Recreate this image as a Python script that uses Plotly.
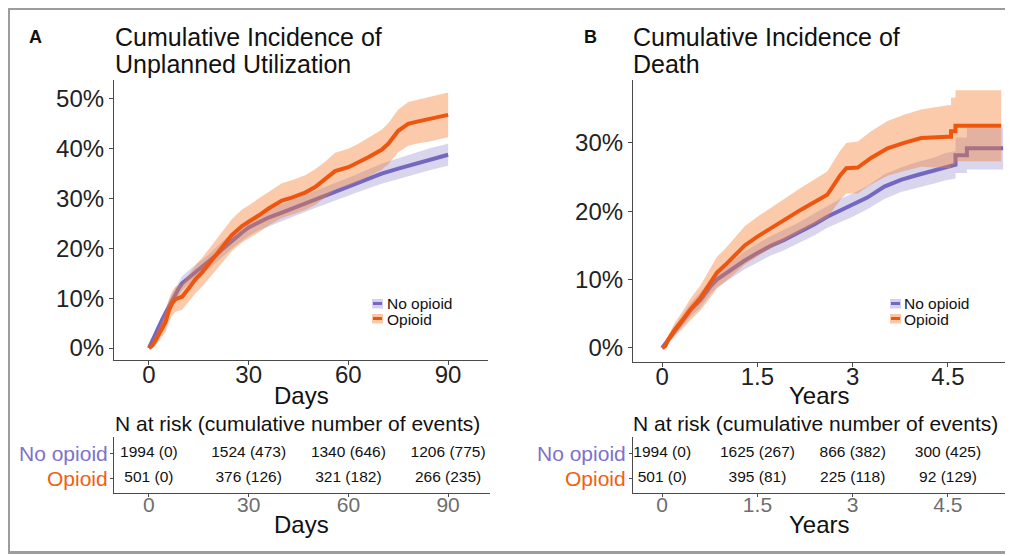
import plotly.graph_objects as go

# ---------------- data ----------------
# Panel A: cumulative incidence of unplanned utilization (%), by days
a_no_days = [0, 1, 2, 3, 4, 5, 6, 7, 8, 9, 10, 12, 14, 16, 18, 20, 22, 25, 28, 30, 33, 36, 40, 45, 50, 55, 60, 65, 70, 75, 80, 85, 90]
a_no_est = [0, 1.5, 3.0, 4.3, 5.7, 7.0, 8.3, 9.6, 10.8, 12.0, 13.0, 14.2, 15.2, 16.3, 17.3, 18.5, 19.8, 21.6, 23.2, 24.2, 25.3, 26.2, 27.2, 28.5, 29.8, 31.1, 32.4, 33.7, 35.0, 36.0, 37.0, 38.0, 38.8]
a_no_lo = [0, 0.9, 2.2, 3.4, 4.7, 5.9, 7.1, 8.3, 9.5, 10.6, 11.6, 12.8, 13.7, 14.8, 15.8, 16.9, 18.2, 20.0, 21.5, 22.5, 23.6, 24.5, 25.5, 26.8, 28.1, 29.3, 30.6, 31.8, 33.0, 33.9, 34.9, 35.8, 36.6]
a_no_hi = [0, 2.1, 3.8, 5.2, 6.7, 8.1, 9.5, 10.9, 12.1, 13.4, 14.4, 15.6, 16.7, 17.8, 18.8, 20.1, 21.4, 23.2, 24.9, 25.9, 27.0, 27.9, 28.9, 30.2, 31.5, 32.9, 34.2, 35.6, 37.0, 38.1, 39.1, 40.2, 41.0]

a_op_days = [0, 1, 2, 3, 4, 5, 6, 7, 8, 10, 12, 14, 16, 18, 20, 22, 25, 28, 30, 33, 36, 40, 43, 47, 50, 53, 56, 60, 63, 66, 70, 72, 75, 78, 81, 84, 87, 90]
a_op_est = [0, 0.5, 1.5, 2.8, 4.0, 5.2, 7.5, 9.0, 9.8, 10.3, 12.0, 13.8, 15.2, 16.8, 18.5, 20.2, 22.7, 24.5, 25.3, 26.6, 28.0, 29.6, 30.2, 31.2, 32.3, 33.8, 35.5, 36.3, 37.2, 38.3, 39.8, 41.0, 43.6, 45.0, 45.5, 45.9, 46.3, 46.8]
a_op_lo = [0, 0, 0.5, 1.4, 2.3, 3.2, 5.2, 6.6, 7.3, 7.7, 9.3, 11.0, 12.3, 13.8, 15.4, 17.1, 19.5, 21.2, 22.0, 23.2, 24.6, 26.1, 26.7, 27.7, 28.7, 30.2, 31.8, 32.6, 33.4, 34.4, 35.8, 36.9, 39.3, 40.6, 41.1, 41.4, 41.8, 42.3]
a_op_hi = [0, 1.1, 2.5, 4.2, 5.7, 7.2, 9.8, 11.4, 12.3, 12.9, 14.7, 16.6, 18.1, 19.8, 21.6, 23.3, 25.9, 27.8, 28.6, 30.0, 31.4, 33.1, 33.7, 34.7, 35.9, 37.4, 39.2, 40.0, 41.0, 42.2, 43.8, 45.1, 47.9, 49.4, 49.9, 50.4, 50.8, 51.3]

# Panel B: cumulative incidence of death (%), by years
b_no_yrs = [0, 0.1, 0.2, 0.33, 0.45, 0.6, 0.76, 0.86, 1.0, 1.13, 1.3, 1.5, 1.7, 1.92, 2.18, 2.4, 2.6, 2.8, 3.0, 3.23, 3.5, 3.76, 4.02, 4.3, 4.45, 4.62, 4.62, 4.8, 4.8, 5.37]
b_no_est = [0, 1.2, 2.6, 4.1, 5.6, 7.0, 9.0, 10.0, 10.9, 11.7, 12.8, 13.9, 14.9, 15.8, 17.0, 18.1, 19.2, 20.1, 20.9, 22.0, 23.6, 24.6, 25.3, 26.0, 26.5, 26.8, 28.2, 28.2, 29.2, 29.2]
b_no_lo = [0, 0.8, 1.9, 3.2, 4.6, 5.9, 7.9, 8.8, 9.7, 10.5, 11.5, 12.5, 13.5, 14.3, 15.5, 16.5, 17.6, 18.4, 19.2, 20.3, 21.8, 22.8, 23.4, 24.1, 24.5, 24.8, 25.6, 25.6, 26.1, 26.1]
b_no_hi = [0, 1.6, 3.3, 5.0, 6.6, 8.1, 10.1, 11.2, 12.1, 12.9, 14.1, 15.3, 16.3, 17.3, 18.5, 19.7, 20.8, 21.8, 22.6, 23.7, 25.4, 26.4, 27.2, 27.9, 28.5, 28.8, 30.8, 30.8, 32.2, 32.2]

b_op_yrs = [0, 0.05, 0.1, 0.2, 0.33, 0.45, 0.6, 0.76, 0.86, 1.0, 1.13, 1.3, 1.5, 1.7, 1.92, 2.18, 2.4, 2.6, 2.7, 2.8, 2.9, 3.08, 3.29, 3.55, 3.81, 4.08, 4.5, 4.55, 4.55, 4.62, 4.62, 5.34]
b_op_est = [0, 0.3, 1.3, 2.7, 4.2, 5.7, 7.3, 9.5, 11.0, 12.2, 13.4, 15.0, 16.3, 17.5, 18.7, 20.2, 21.4, 22.4, 23.8, 25.2, 26.3, 26.4, 27.8, 29.2, 30.0, 30.7, 30.9, 30.9, 31.7, 31.7, 32.5, 32.5]
b_op_lo = [0, 0, 0.7, 1.7, 2.9, 4.1, 5.5, 7.4, 8.7, 9.8, 10.8, 12.2, 13.4, 14.5, 15.6, 17.0, 18.1, 19.0, 20.3, 21.6, 22.6, 22.6, 23.9, 25.2, 25.9, 26.5, 26.3, 26.3, 26.8, 26.8, 27.3, 27.3]
b_op_hi = [0, 0.6, 1.9, 3.7, 5.5, 7.3, 9.1, 11.6, 13.3, 14.6, 16.0, 17.8, 19.2, 20.5, 21.8, 23.4, 24.7, 25.8, 27.3, 28.8, 30.0, 30.2, 31.7, 33.2, 34.1, 34.9, 35.5, 35.5, 36.6, 36.6, 37.7, 37.7]

# Risk tables
groups = ["Opioid", "No opioid"]
a_table_x = [0, 30, 60, 90]
a_table_no = ["1994 (0)", "1524 (473)", "1340 (646)", "1206 (775)"]
a_table_op = ["501 (0)", "376 (126)", "321 (182)", "266 (235)"]
b_table_x = [0, 1.5, 3, 4.5]
b_table_no = ["1994 (0)", "1625 (267)", "866 (382)", "300 (425)"]
b_table_op = ["501 (0)", "395 (81)", "225 (118)", "92 (129)"]

a_xticks = [0, 30, 60, 90]
a_yticks = [0, 10, 20, 30, 40, 50]
a_yticklabels = ["0%", "10%", "20%", "30%", "40%", "50%"]
b_xticks = [0, 1.5, 3, 4.5]
b_xticklabels = ["0", "1.5", "3", "4.5"]
b_yticks = [0, 10, 20, 30]
b_yticklabels = ["0%", "10%", "20%", "30%"]

# ---------------- styling ----------------
FONT = "Liberation Sans, Arial, Helvetica, sans-serif"
PURPLE = "#7467C0"
ORANGE = "#EE560F"
PURPLE_BAND = "rgba(116,103,192,0.28)"
ORANGE_BAND = "rgba(244,128,56,0.42)"
ROW_PURPLE = "#7E72C9"
ROW_ORANGE = "#F0600F"
# the page body has an 8px margin, so the figure is drawn 8px smaller and
# every screen position below is given in window pixels and shifted by it
OFF = 8
W, H = 1013 - OFF, 556 - OFF


def px(x):
    return (x - OFF) / W


def py(y):
    return 1 - (y - OFF) / H


fig = go.Figure()


def add_curves(xs, est, lo, hi, line_color, band_color, xa, ya):
    fig.add_trace(go.Scatter(
        x=list(xs) + list(xs)[::-1], y=list(hi) + list(lo)[::-1],
        fill="toself", fillcolor=band_color, line=dict(width=0),
        mode="lines", hoverinfo="skip", showlegend=False, xaxis=xa, yaxis=ya))
    fig.add_trace(go.Scatter(
        x=xs, y=est, mode="lines", line=dict(color=line_color, width=4),
        showlegend=False, xaxis=xa, yaxis=ya))


add_curves(a_no_days, a_no_est, a_no_lo, a_no_hi, PURPLE, PURPLE_BAND, "x", "y")
add_curves(a_op_days, a_op_est, a_op_lo, a_op_hi, ORANGE, ORANGE_BAND, "x", "y")
add_curves(b_no_yrs, b_no_est, b_no_lo, b_no_hi, PURPLE, PURPLE_BAND, "x3", "y3")
add_curves(b_op_yrs, b_op_est, b_op_lo, b_op_hi, ORANGE, ORANGE_BAND, "x3", "y3")

# risk tables as text traces
for xs, no, op, xa, ya in [(a_table_x, a_table_no, a_table_op, "x2", "y2"),
                           (b_table_x, b_table_no, b_table_op, "x4", "y4")]:
    fig.add_trace(go.Scatter(x=xs, y=[groups[1]] * len(xs), text=no, mode="text",
                             textfont=dict(size=15.5, color="#111", family=FONT),
                             showlegend=False, xaxis=xa, yaxis=ya, hoverinfo="skip"))
    fig.add_trace(go.Scatter(x=xs, y=[groups[0]] * len(xs), text=op, mode="text",
                             textfont=dict(size=15.5, color="#111", family=FONT),
                             showlegend=False, xaxis=xa, yaxis=ya, hoverinfo="skip"))

AX_LINE = "#4a4a4a"
main_x = dict(showline=True, linecolor=AX_LINE, linewidth=1.2, ticks="outside", ticklen=4,
              tickcolor=AX_LINE, showgrid=False, zeroline=False, ticklabelstandoff=-11,
              tickfont=dict(size=24, color="#222", family=FONT))
main_y = dict(showline=True, linecolor=AX_LINE, linewidth=1.2, ticks="outside", ticklen=4,
              tickcolor=AX_LINE, showgrid=False, zeroline=False,
              tickfont=dict(size=24, color="#222", family=FONT))
tab_x = dict(showline=True, linecolor=AX_LINE, linewidth=1.2, ticks="outside", ticklen=3,
             tickcolor=AX_LINE, showgrid=False, zeroline=False, ticklabelstandoff=-10,
             tickfont=dict(size=21, color="#6e6e6e", family=FONT))
tab_y = dict(showline=True, linecolor=AX_LINE, linewidth=1.2, ticks="outside", ticklen=3,
             tickcolor=AX_LINE, showgrid=False, zeroline=False, showticklabels=False,
             type="category", categoryorder="array", categoryarray=groups)

fig.update_layout(
    width=W, height=H, margin=dict(l=0, r=0, t=0, b=0),
    paper_bgcolor="white", plot_bgcolor="white", font=dict(family=FONT),
    xaxis=dict(main_x, domain=[px(114), px(488)], range=[-10.5, 102], tickvals=a_xticks, anchor="y"),
    yaxis=dict(main_y, domain=[py(360), py(80)], range=[-2.4, 53.8], tickvals=a_yticks,
               ticktext=a_yticklabels, anchor="x"),
    xaxis2=dict(tab_x, domain=[px(114), px(490)], range=[-10.5, 102.6], tickvals=a_xticks, anchor="y2"),
    yaxis2=dict(tab_y, domain=[py(493), py(437)], range=[-0.6, 1.64], anchor="x2"),
    xaxis3=dict(main_x, domain=[px(633), px(1005)], range=[-0.46, 5.40], tickvals=b_xticks,
                ticktext=b_xticklabels, anchor="y3"),
    yaxis3=dict(main_y, domain=[py(362), py(80)], range=[-2.05, 39.2], tickvals=b_yticks,
                ticktext=b_yticklabels, anchor="x3"),
    xaxis4=dict(tab_x, domain=[px(633), px(1007)], range=[-0.46, 5.43], tickvals=b_xticks,
                ticktext=b_xticklabels, anchor="y4"),
    yaxis4=dict(tab_y, domain=[py(493), py(437)], range=[-0.6, 1.64], anchor="x4"),
)

ann = []


def text(x, y, s, size, color="#111", xanchor="center", bold=False, xref="paper", yref="paper"):
    ann.append(dict(x=x, y=y, xref=xref, yref=yref, text=("<b>%s</b>" % s) if bold else s,
                    showarrow=False, xanchor=xanchor, yanchor="middle",
                    font=dict(size=size, color=color, family=FONT)))


# panel letters & titles
text(px(35), py(37), "A", 18, bold=True)
text(px(590), py(37), "B", 18, bold=True)
text(px(113), py(37), "Cumulative Incidence of", 25, xanchor="left")
text(px(113), py(64), "Unplanned Utilization", 25, xanchor="left")
text(px(631), py(37), "Cumulative Incidence of", 25, xanchor="left")
text(px(631), py(64), "Death", 25, xanchor="left")
# axis titles
text(px(301), py(395), "Days", 24)
text(px(819), py(395), "Years", 24)
text(px(301), py(524), "Days", 24)
text(px(819), py(524), "Years", 24)
# risk table titles
text(px(297), py(423), "N at risk (cumulative number of events)", 21)
text(px(815), py(423), "N at risk (cumulative number of events)", 21)
# row labels
for xr, ya in [(110, "y2"), (628, "y4")]:
    text(px(xr), groups[1], groups[1], 21, color=ROW_PURPLE, xanchor="right", yref=ya)
    text(px(xr), groups[0], groups[0], 21, color=ROW_ORANGE, xanchor="right", yref=ya)

# in-plot legends
shapes = []
for kx, tx in [(372, 385), (890, 902)]:
    shapes.append(dict(type="rect", xref="paper", yref="paper", x0=px(kx), x1=px(kx + 11),
                       y0=py(308.5), y1=py(299), fillcolor="#D4D0EE", line=dict(width=0)))
    shapes.append(dict(type="line", xref="paper", yref="paper", x0=px(kx + 1), x1=px(kx + 10),
                       y0=py(303.5), y1=py(303.5), line=dict(color=PURPLE, width=3)))
    shapes.append(dict(type="rect", xref="paper", yref="paper", x0=px(kx), x1=px(kx + 11),
                       y0=py(323.5), y1=py(314), fillcolor="#FBC7A6", line=dict(width=0)))
    shapes.append(dict(type="line", xref="paper", yref="paper", x0=px(kx + 1), x1=px(kx + 10),
                       y0=py(318.5), y1=py(318.5), line=dict(color=ORANGE, width=3)))
    text(px(tx), py(303.5), "No opioid", 15.5, xanchor="left")
    text(px(tx), py(319), "Opioid", 15.5, xanchor="left")

# outer frame
shapes.append(dict(type="rect", xref="paper", yref="paper", x0=px(8.5), x1=px(1007.5),
                   y0=py(552.5), y1=py(8.5), line=dict(color="#9c9c9c", width=3),
                   fillcolor="rgba(0,0,0,0)"))

fig.update_layout(annotations=ann, shapes=shapes)
fig.write_html("out.html")
